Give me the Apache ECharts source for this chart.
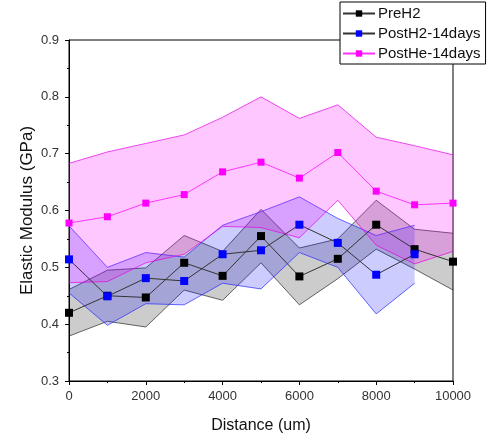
<!DOCTYPE html>
<html>
<head>
<meta charset="utf-8">
<script src="https://cdn.jsdelivr.net/npm/echarts@6/dist/echarts.min.js"></script>
<style>html,body{margin:0;padding:0;background:#fff;}#c{width:489px;height:436px;}</style>
</head>
<body>
<div id="c"></div>
<script>
const distance = [0, 1000, 2000, 3000, 4000, 5000, 6000, 7000, 8000, 9000, 10000];
const preH2Mean = [0.420, 0.450, 0.447, 0.508, 0.485, 0.555, 0.484, 0.515, 0.575, 0.532, 0.510];
const preH2Sd   = [0.041, 0.045, 0.052, 0.048, 0.043, 0.047, 0.050, 0.035, 0.043, 0.035, 0.050];
const postH2Mean = [0.514, 0.449, 0.481, 0.476, 0.523, 0.530, 0.575, 0.543, 0.487, 0.523];
const postH2Sd   = [0.059, 0.051, 0.045, 0.042, 0.051, 0.068, 0.049, 0.043, 0.069, 0.051];
const postHeMean = [0.578, 0.589, 0.613, 0.628, 0.668, 0.685, 0.657, 0.702, 0.634, 0.610, 0.613];
const postHeSd   = [0.105, 0.114, 0.105, 0.105, 0.096, 0.115, 0.105, 0.084, 0.095, 0.104, 0.085];
const yTicks = [0.3, 0.4, 0.5, 0.6, 0.7, 0.8, 0.9];
const xTicks = [0, 2000, 4000, 6000, 8000, 10000];

function band(mean, sd, fill, edge) {
  const data = mean.map((m, i) => [distance[i], m - sd[i], m + sd[i]]);
  return {
    type: 'custom', silent: true, z: 1,
    data: [0],
    renderItem: function (params, api) {
      const lo = data.map(d => api.coord([d[0], d[1]]));
      const hi = data.map(d => api.coord([d[0], d[2]]));
      const poly = hi.concat(lo.slice().reverse());
      return {
        type: 'group',
        children: [
          { type: 'polygon', shape: { points: poly }, style: { fill: fill, stroke: null } },
          { type: 'polyline', shape: { points: hi }, style: { stroke: edge, lineWidth: 1, fill: null } },
          { type: 'polyline', shape: { points: lo }, style: { stroke: edge, lineWidth: 1, fill: null } }
        ]
      };
    }
  };
}
function meanSeries(name, mean, lineColor, markColor, size) {
  return { name: name, type: 'line', data: mean.map((m, i) => [distance[i], m]),
    symbol: 'rect', symbolSize: size, showSymbol: true,
    lineStyle: { color: lineColor, width: 1 }, itemStyle: { color: markColor }, z: 5 };
}

const chart = echarts.init(document.getElementById('c'), null, { renderer: 'canvas' });
chart.setOption({
  animation: false,
  grid: { left: 69, right: 36, top: 40, bottom: 55, show: true, borderColor: '#000', borderWidth: 1,
    backgroundColor: 'transparent', containLabel: false, outerBoundsMode: 'none' },
  legend: {
    data: ['PreH2', 'PostH2-14days', 'PostHe-14days'],
    orient: 'vertical', left: 340, top: 2,
    itemWidth: 32, itemHeight: 8, itemGap: 3,
    padding: [3, 5, 2, 2],
    backgroundColor: '#fff', borderColor: '#000', borderWidth: 1,
    textStyle: { fontFamily: 'Liberation Sans', fontSize: 15, color: '#111', lineHeight: 17, padding: [0,0,0,-2] },
    z: 20
  },
  xAxis: {
    type: 'value', min: 0, max: 10000, interval: 2000,
    name: 'Distance (um)', nameLocation: 'middle', nameGap: 37, nameMoveOverlap: false,
    nameTextStyle: { fontFamily: 'Liberation Sans', fontSize: 16, color: '#111' },
    axisLine: { lineStyle: { color: '#000', width: 1 } },
    axisTick: { inside: false, length: 4, lineStyle: { color: '#000' } },
    minorTick: { show: true, splitNumber: 2, length: 2, lineStyle: { color: '#000' } },
    axisLabel: { fontFamily: 'Liberation Sans', fontSize: 13, color: '#333', margin: 9,
      formatter: v => xTicks.indexOf(v) >= 0 ? String(v) : '' },
    splitLine: { show: false }
  },
  yAxis: {
    type: 'value', min: 0.3, max: 0.9, interval: 0.1,
    name: 'Elastic Modulus (GPa)', nameLocation: 'middle', nameGap: 33, nameRotate: 90, nameMoveOverlap: false,
    nameTextStyle: { fontFamily: 'Liberation Sans', fontSize: 17, color: '#111' },
    axisLine: { show: true, lineStyle: { color: '#000', width: 1 } },
    axisTick: { show: true, inside: false, length: 4, lineStyle: { color: '#000' } },
    minorTick: { show: true, splitNumber: 2, length: 2, lineStyle: { color: '#000' } },
    axisLabel: { fontFamily: 'Liberation Sans', fontSize: 13, color: '#333', margin: 10,
      formatter: v => { const t = yTicks.find(k => Math.abs(k - v) < 1e-6); return t !== undefined ? t.toFixed(1) : ''; } },
    splitLine: { show: false }
  },
  series: [
    band(preH2Mean, preH2Sd, 'rgba(0,0,0,0.2)', 'rgba(40,40,40,0.7)'),
    band(postH2Mean, postH2Sd, 'rgba(0,0,255,0.2)', 'rgba(40,40,255,0.7)'),
    band(postHeMean, postHeSd, 'rgba(255,0,255,0.22)', 'rgba(230,0,230,0.7)'),
    meanSeries('PreH2', preH2Mean, '#333', '#000', 8),
    meanSeries('PostH2-14days', postH2Mean, '#333', '#0000ff', 8),
    meanSeries('PostHe-14days', postHeMean, '#ff33ff', '#ff00ff', 7)
  ]
});
</script>
</body>
</html>
